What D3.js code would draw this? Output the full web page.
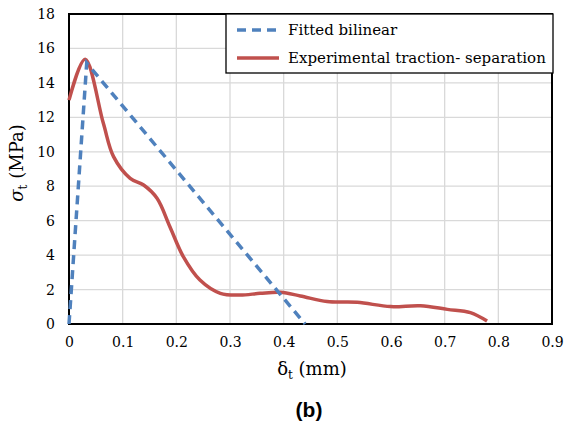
<!DOCTYPE html>
<html>
<head>
<meta charset="utf-8">
<script src="https://cdn.jsdelivr.net/npm/d3@7"></script>
<style>
  body { margin: 0; background: #fff; }
</style>
</head>
<body>
<svg width="573" height="425"></svg>
<script>
var xTicks = [0, 0.1, 0.2, 0.3, 0.4, 0.5, 0.6, 0.7, 0.8, 0.9];
var yTicks = [0, 2, 4, 6, 8, 10, 12, 14, 16, 18];

// fitted bilinear law
var bilinearX = [0, 0.033, 0.44];
var bilinearY = [0, 15.15, 0];

// experimental traction-separation curve
var expX = [0, 0.030, 0.064, 0.083, 0.114, 0.139, 0.164, 0.188, 0.213, 0.244, 0.282, 0.319, 0.356, 0.394, 0.431, 0.481, 0.537, 0.599, 0.655, 0.705, 0.748, 0.779];
var expY = [13.0, 15.37, 11.65, 9.72, 8.46, 8.07, 7.30, 5.65, 3.91, 2.55, 1.78, 1.68, 1.78, 1.84, 1.63, 1.30, 1.26, 1.01, 1.06, 0.85, 0.66, 0.17];

var serif = '"DejaVu Serif", "Liberation Serif", serif';
var margin = {top: 14, left: 69, right: 21, bottom: 101};
var width = 573, height = 425;

var svg = d3.select('svg');

var xScale = d3.scaleLinear()
  .domain([0, 0.9])
  .range([margin.left, width - margin.right]);

var yScale = d3.scaleLinear()
  .domain([0, 18])
  .range([height - margin.bottom, margin.top]);

// gridlines
svg.append('g')
  .selectAll('line')
  .data(xTicks.slice(1))
  .enter().append('line')
  .attr('x1', d => xScale(d)).attr('x2', d => xScale(d))
  .attr('y1', yScale(0)).attr('y2', yScale(18))
  .attr('stroke', '#d9d9d9').attr('stroke-width', 1.3);

svg.append('g')
  .selectAll('line')
  .data(yTicks.slice(1))
  .enter().append('line')
  .attr('x1', xScale(0)).attr('x2', xScale(0.9))
  .attr('y1', d => yScale(d)).attr('y2', d => yScale(d))
  .attr('stroke', '#d9d9d9').attr('stroke-width', 1.3);

// axes (labels only)
var xAxis = d3.axisBottom(xScale)
  .tickValues(xTicks)
  .tickSize(0)
  .tickPadding(13)
  .tickFormat(d => d === 0 ? '0' : d3.format('.1f')(d));

var yAxis = d3.axisLeft(yScale)
  .tickValues(yTicks)
  .tickSize(0)
  .tickPadding(14);

var gx = svg.append('g')
  .attr('transform', 'translate(' + [0, yScale(0)] + ')')
  .call(xAxis);
var gy = svg.append('g')
  .attr('transform', 'translate(' + [xScale(0), 0] + ')')
  .call(yAxis);
[gx, gy].forEach(g => {
  g.attr('font-family', null).attr('font-size', null);
  g.select('.domain').remove();
  g.selectAll('text')
    .style('font-family', serif)
    .style('font-size', '14px')
    .attr('fill', '#000');
});

// frame
svg.append('rect')
  .attr('x', xScale(0)).attr('y', yScale(18))
  .attr('width', xScale(0.9) - xScale(0))
  .attr('height', yScale(0) - yScale(18))
  .attr('fill', 'none')
  .attr('stroke', '#000')
  .attr('stroke-width', 2);

// lines
var bilinear = bilinearX.map((x, i) => ({x: x, y: bilinearY[i]}));
var experimental = expX.map((x, i) => ({x: x, y: expY[i]}));

var straight = d3.line()
  .x(d => xScale(d.x))
  .y(d => yScale(d.y));

var smooth = d3.line()
  .x(d => xScale(d.x))
  .y(d => yScale(d.y))
  .curve(d3.curveCatmullRom.alpha(0.5));

svg.append('path')
  .attr('d', smooth(experimental))
  .attr('fill', 'none')
  .attr('stroke', '#c0504d')
  .attr('stroke-width', 3.5)
  .attr('stroke-linejoin', 'round');

svg.append('path')
  .attr('d', straight(bilinear))
  .attr('fill', 'none')
  .attr('stroke', '#4f81bd')
  .attr('stroke-width', 3.5)
  .attr('stroke-dasharray', '9,6');

// legend
var legend = svg.append('g').attr('transform', 'translate(226,14)');
legend.append('rect')
  .attr('width', 327).attr('height', 59)
  .attr('fill', '#fff')
  .attr('stroke', '#000')
  .attr('stroke-width', 1.3);
legend.append('line')
  .attr('x1', 11).attr('x2', 53).attr('y1', 16).attr('y2', 16)
  .attr('stroke', '#4f81bd').attr('stroke-width', 3.5)
  .attr('stroke-dasharray', '9,6');
legend.append('line')
  .attr('x1', 11).attr('x2', 53).attr('y1', 44).attr('y2', 44)
  .attr('stroke', '#c0504d').attr('stroke-width', 3.5);
legend.append('text')
  .attr('x', 62).attr('y', 21)
  .style('font-family', serif).style('font-size', '15px')
  .text('Fitted bilinear');
legend.append('text')
  .attr('x', 62).attr('y', 49)
  .style('font-family', serif).style('font-size', '15px')
  .text('Experimental traction- separation');

// axis titles
var yTitle = svg.append('text')
  .attr('transform', 'translate(23,163) rotate(-90)')
  .attr('text-anchor', 'middle')
  .style('font-family', serif).style('font-size', '18px');
yTitle.append('tspan').attr('font-style', 'italic').text('σ');
yTitle.append('tspan').style('font-size', '12px').attr('dy', 4).text('t');
yTitle.append('tspan').attr('dy', -4).text(' (MPa)');

var xTitle = svg.append('text')
  .attr('x', 312).attr('y', 375)
  .attr('text-anchor', 'middle')
  .style('font-family', serif).style('font-size', '18px');
xTitle.append('tspan').text('δ');
xTitle.append('tspan').style('font-size', '12px').attr('dy', 4).text('t');
xTitle.append('tspan').attr('dy', -4).text(' (mm)');

svg.append('text')
  .attr('x', 309).attr('y', 417)
  .attr('text-anchor', 'middle')
  .style('font-family', '"Liberation Sans", Arial, sans-serif')
  .style('font-weight', 'bold')
  .style('font-size', '21px')
  .text('(b)');
</script>
</body>
</html>
